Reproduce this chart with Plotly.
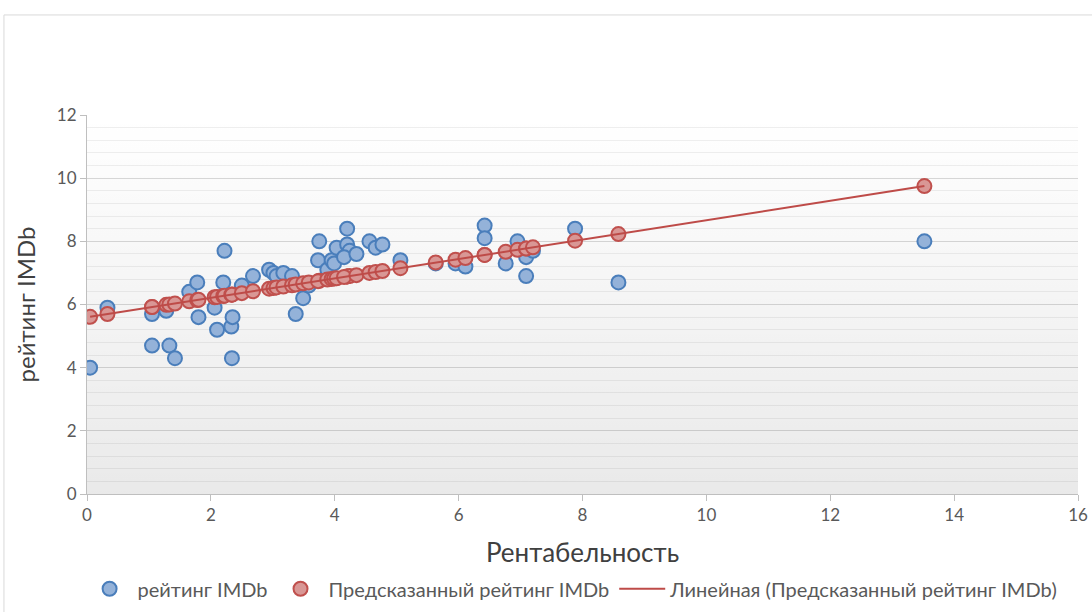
import numpy as np
import plotly.graph_objects as go

# Рентабельность (x) and рейтинг IMDb (y)
profitability = [0.05, 0.33, 1.05, 1.05, 1.28, 1.33, 1.42, 1.65, 1.78, 1.80,
                 2.06, 2.10, 2.20, 2.22, 2.33, 2.35, 2.34, 2.50, 2.68, 2.94,
                 3.01, 3.06, 3.17, 3.31, 3.37, 3.49, 3.58, 3.75, 3.73, 3.88,
                 3.95, 3.99, 4.03, 4.20, 4.20, 4.24, 4.15, 4.35, 4.56, 4.66,
                 4.77, 5.06, 5.63, 5.95, 6.11, 6.42, 6.42, 6.76, 6.95, 7.09,
                 7.09, 7.20, 7.88, 8.58, 13.52]
rating = [4.0, 5.9, 5.7, 4.7, 5.8, 4.7, 4.3, 6.4, 6.7, 5.6,
          5.9, 5.2, 6.7, 7.7, 5.3, 5.6, 4.3, 6.6, 6.9, 7.1,
          7.0, 6.9, 7.0, 6.9, 5.7, 6.2, 6.6, 8.0, 7.4, 7.1,
          7.4, 7.3, 7.8, 8.4, 7.9, 7.7, 7.5, 7.6, 8.0, 7.8,
          7.9, 7.4, 7.3, 7.3, 7.2, 8.5, 8.1, 7.3, 8.0, 7.5,
          6.9, 7.7, 8.4, 6.7, 8.0]
predicted = [5.61, 5.70, 5.92, 5.92, 5.99, 6.00, 6.03, 6.10, 6.14, 6.15,
             6.23, 6.24, 6.27, 6.28, 6.31, 6.32, 6.31, 6.36, 6.42, 6.50,
             6.52, 6.54, 6.57, 6.61, 6.63, 6.67, 6.70, 6.75, 6.74, 6.79,
             6.81, 6.82, 6.83, 6.89, 6.89, 6.90, 6.87, 6.93, 7.00, 7.03,
             7.06, 7.15, 7.33, 7.42, 7.47, 7.57, 7.57, 7.67, 7.73, 7.77,
             7.77, 7.81, 8.02, 8.23, 9.75]

x_ticks = [0, 2, 4, 6, 8, 10, 12, 14, 16]
y_ticks = [0, 2, 4, 6, 8, 10, 12]
x_range = [0, 16]
y_range = [0, 12]

FONT = "Lato, 'Noto Sans', sans-serif"
TXT = "#595959"

# linear trendline of predicted series
coef = np.polyfit(profitability, predicted, 1)
tx = np.array([min(profitability), max(profitability)])
ty = np.polyval(coef, tx)

fig = go.Figure()

# plot-area gradient background (translucent so gridlines show through)
fig.add_trace(go.Scatter(
    x=[x_range[0], x_range[1], x_range[1], x_range[0], x_range[0]],
    y=[y_range[0], y_range[0], y_range[1], y_range[1], y_range[0]],
    mode="none", fill="toself",
    fillgradient=dict(type="vertical",
                      colorscale=[[0, "rgba(0,0,0,0.085)"], [1, "rgba(0,0,0,0)"]]),
    showlegend=False, hoverinfo="skip"))

fig.add_trace(go.Scatter(
    x=profitability, y=rating, mode="markers", name="рейтинг IMDb",
    marker=dict(size=14, color="#94b2d9", line=dict(color="#4a7ebb", width=2))))

fig.add_trace(go.Scatter(
    x=profitability, y=predicted, mode="markers", name="Предсказанный рейтинг IMDb",
    marker=dict(size=14, color="#d99795", line=dict(color="#c0504d", width=2))))

fig.add_trace(go.Scatter(
    x=tx, y=ty, mode="lines", name="Линейная (Предсказанный рейтинг IMDb)",
    line=dict(color="#be4b48", width=2)))

fig.update_layout(
    width=1092, height=612,
    margin=dict(l=87, r=14, t=115, b=118, autoexpand=False),
    paper_bgcolor="white", plot_bgcolor="white",
    font=dict(family=FONT, color=TXT, size=17),
    showlegend=True,
    legend=dict(orientation="h", x=0.49, xanchor="center", y=-0.25, yanchor="middle",
                font=dict(size=20, color=TXT), itemwidth=46),
    shapes=[dict(type="rect", xref="paper", yref="paper",
                 x0=-0.0838, x1=1.02, y0=-0.33, y1=1.264,
                 line=dict(color="#d9d9d9", width=1), fillcolor="rgba(0,0,0,0)",
                 layer="below")],
)

fig.update_xaxes(
    range=x_range, tickvals=x_ticks, showgrid=False, zeroline=False, automargin=False,
    showline=True, linecolor="#bfbfbf", linewidth=1,
    ticks="outside", ticklen=6, tickcolor="#bfbfbf",
    tickfont=dict(size=17, color=TXT),
    title=dict(text="Рентабельность", font=dict(size=26, color="#404040"), standoff=19))

fig.update_yaxes(
    range=y_range, tickvals=y_ticks, zeroline=False, automargin=False,
    showgrid=True, gridcolor="#d9d9d9", gridwidth=1,
    minor=dict(dtick=0.4, showgrid=True, gridcolor="#efefef", gridwidth=1),
    showline=True, linecolor="#bfbfbf", linewidth=1,
    ticks="outside", ticklen=6, tickcolor="#bfbfbf",
    tickfont=dict(size=17, color=TXT),
    title=dict(text="рейтинг IMDb", font=dict(size=24, color="#404040"), standoff=14))

fig.write_html("out.html", config={"displayModeBar": False},
               post_script="document.body.style.margin='0';")
